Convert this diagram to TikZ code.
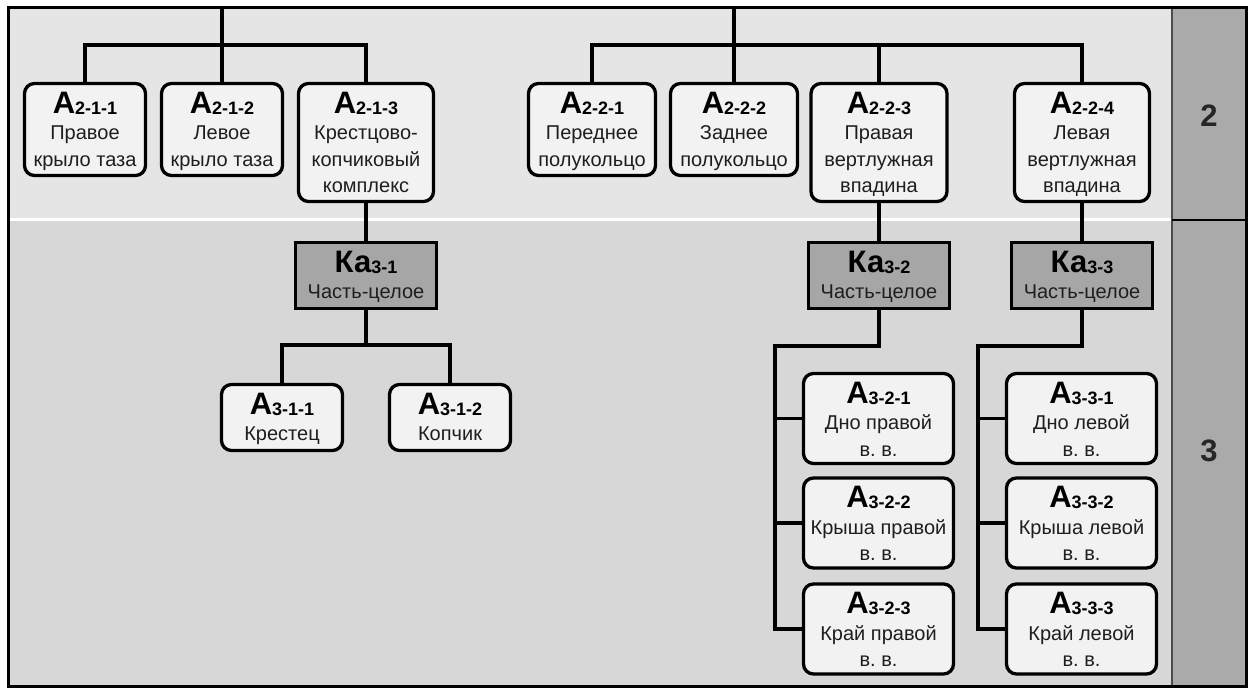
\documentclass[tikz,border=0pt]{standalone}
\usepackage{fontspec}
\setmainfont{Liberation Sans}

\definecolor{rowtwo}{RGB}{229,229,229}
\definecolor{rowthree}{RGB}{215,215,215}
\definecolor{levelcol}{RGB}{170,170,170}
\definecolor{leaffill}{RGB}{242,242,242}
\definecolor{kafill}{RGB}{166,166,166}
\definecolor{bodytext}{RGB}{30,30,30}

% card content: width, height, title, body lines
\newcommand\cardbody[4]{%
  \parbox[c][#2][t]{#1}{\centering\fontsize{20}{26.5}\selectfont\color{bodytext}%
    \rule{0pt}{29.5pt}#3\\#4\par}}
% bold letter(s) with a bold index
\newcommand\ttl[2]{{\color{black}\bfseries\fontsize{31}{31}\selectfont #1}%
  {\color{black}\bfseries\fontsize{18}{18}\selectfont\raisebox{-1pt}{#2}}}

\tikzset{
  conn/.style={draw=black, line width=3.4pt},
  leaf/.style={draw=black, line width=3.3pt, rounded corners=10pt, fill=leaffill, inner sep=0pt, outer sep=0pt},
  kabox/.style={draw=black, line width=3.3pt, fill=kafill, inner sep=0pt, outer sep=0pt},
  levelnum/.style={font=\bfseries\fontsize{31}{31}\selectfont, text=black!85},
}

\begin{document}
\begin{tikzpicture}[x=1pt,y=-1pt]
\useasboundingbox (0,0) rectangle (1253,688);
\fill[white] (0,0) rectangle (1253,688);

% level bands
\fill[rowtwo] (8,7) rectangle (1172,218);
\fill[white] (8,218) rectangle (1172,221);
\fill[rowthree] (8,221) rectangle (1172,686);
\fill[levelcol] (1172,7) rectangle (1246,686);
\draw[black!70, line width=1.2pt] (1172,7) -- (1172,686);
\draw[black, line width=1.5pt] (1172,220) -- (1246,220);
\node[levelnum] (lvl2) at (1209,116) {2};
\node[levelnum] (lvl3) at (1209,451) {3};

% level 2
\node[leaf] (a211) at (85,129.5)  {\cardbody{121pt}{92pt}{\ttl{А}{2-1-1}}{Правое\\крыло таза}};
\node[leaf] (a212) at (222,129.5) {\cardbody{121pt}{92pt}{\ttl{А}{2-1-2}}{Левое\\крыло таза}};
\node[leaf] (a213) at (366,142.5) {\cardbody{135pt}{118pt}{\ttl{А}{2-1-3}}{Крестцово-\\копчиковый\\комплекс}};
\node[leaf] (a221) at (592,129.5) {\cardbody{127pt}{92pt}{\ttl{А}{2-2-1}}{Переднее\\полукольцо}};
\node[leaf] (a222) at (734,129.5) {\cardbody{127pt}{92pt}{\ttl{А}{2-2-2}}{Заднее\\полукольцо}};
\node[leaf] (a223) at (879,142.5) {\cardbody{136pt}{118pt}{\ttl{А}{2-2-3}}{Правая\\вертлужная\\впадина}};
\node[leaf] (a224) at (1082,142.5){\cardbody{135pt}{118pt}{\ttl{А}{2-2-4}}{Левая\\вертлужная\\впадина}};

% level 3: relations
\node[kabox] (k31) at (366,275.5)  {\cardbody{141pt}{66pt}{\ttl{Ка}{3-1}}{Часть-целое}};
\node[kabox] (k32) at (879,275.5)  {\cardbody{141pt}{66pt}{\ttl{Ка}{3-2}}{Часть-целое}};
\node[kabox] (k33) at (1082,275.5) {\cardbody{141pt}{66pt}{\ttl{Ка}{3-3}}{Часть-целое}};

% level 3: parts
\node[leaf] (a311) at (282,417.5) {\cardbody{121pt}{66pt}{\ttl{А}{3-1-1}}{Крестец}};
\node[leaf] (a312) at (450,417.5) {\cardbody{121pt}{66pt}{\ttl{А}{3-1-2}}{Копчик}};

\node[leaf] (a321) at (878.5,418.5) {\cardbody{150pt}{90pt}{\ttl{А}{3-2-1}}{Дно правой\\в.\ в.}};
\node[leaf] (a322) at (878.5,523)   {\cardbody{150pt}{90pt}{\ttl{А}{3-2-2}}{Крыша правой\\в.\ в.}};
\node[leaf] (a323) at (878.5,629)   {\cardbody{150pt}{90pt}{\ttl{А}{3-2-3}}{Край правой\\в.\ в.}};

\node[leaf] (a331) at (1081.5,418.5) {\cardbody{150pt}{90pt}{\ttl{А}{3-3-1}}{Дно левой\\в.\ в.}};
\node[leaf] (a332) at (1081.5,523)   {\cardbody{150pt}{90pt}{\ttl{А}{3-3-2}}{Крыша левой\\в.\ в.}};
\node[leaf] (a333) at (1081.5,629)   {\cardbody{150pt}{90pt}{\ttl{А}{3-3-3}}{Край левой\\в.\ в.}};

% junction points
\coordinate (top1) at (222,7);
\coordinate (bar1) at (222,45);
\coordinate (top2) at (734,7);
\coordinate (bar2) at (734,45);
\coordinate (bar3) at (366,345);
\coordinate (spine2) at (775,346);
\coordinate (spine3) at (978,346);

% connectors, level 2
\draw[conn] (top1) -- (a212.north);
\draw[conn] (a211.north) |- (bar1) -| (a213.north);
\draw[conn] (top2) -- (a222.north);
\draw[conn] (a221.north) |- (bar2) -| (a224.north);
\draw[conn] (bar2 -| a223.north) -- (a223.north);

% connectors, level 2 to 3
\draw[conn] (a213.south) -- (k31.north);
\draw[conn] (a223.south) -- (k32.north);
\draw[conn] (a224.south) -- (k33.north);

% connectors, level 3
\draw[conn] (k31.south) -- (bar3);
\draw[conn] (a311.north) |- (bar3) -| (a312.north);

\draw[conn] (k32.south) |- (spine2) |- (a323.west);
\draw[conn] (spine2 |- a321.west) -- (a321.west);
\draw[conn] (spine2 |- a322.west) -- (a322.west);

\draw[conn] (k33.south) |- (spine3) |- (a333.west);
\draw[conn] (spine3 |- a331.west) -- (a331.west);
\draw[conn] (spine3 |- a332.west) -- (a332.west);

% outer frame
\draw[black, line width=3pt] (8,7) rectangle (1246,686);
\end{tikzpicture}
\end{document}
